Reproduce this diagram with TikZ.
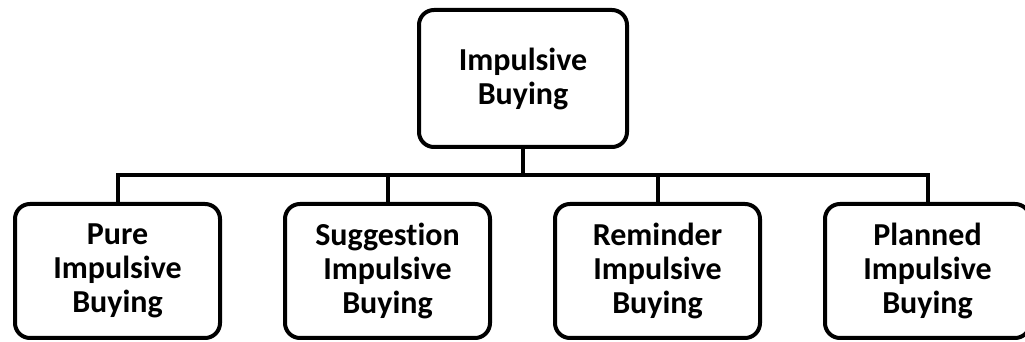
\documentclass[tikz,border=0pt]{standalone}
\usepackage{fontspec}
\setmainfont{Carlito}[Ligatures=NoCommon]
\usepackage{tikz}
\usetikzlibrary{positioning}

\tikzset{
    kind/.style={draw, line width=2pt, rounded corners=7.5pt, align=center,
        font=\bfseries\fontsize{16}{17}\selectfont,
        minimum width=102.5pt, minimum height=67pt, inner sep=0pt},
}

\begin{document}
\begin{tikzpicture}[x=0.5pt, y=-0.5pt, node distance=135pt, line width=2pt]
    \useasboundingbox (0,0) rectangle (1025,342);

    % Nodes
    \node (impulse) [kind, minimum width=104pt, minimum height=68.5pt] at (523,78.5) {Impulsive\\Buying};
    \node (pure) [kind] at (117.5,271) {Pure\\Impulsive\\Buying};
    \node (suggest) [kind, right of=pure] {Suggestion\\Impulsive\\Buying};
    \node (remind) [kind, right of=suggest] {Reminder\\Impulsive\\Buying};
    \node (planned) [kind, right of=remind] {Planned\\Impulsive\\Buying};

    % Connectors
    \coordinate (bar) at (523,175);
    \draw (impulse) -- (bar);
    \draw (bar) -| (pure);
    \draw (bar) -| (suggest);
    \draw (bar) -| (remind);
    \draw (bar) -| (planned);

\end{tikzpicture}
\end{document}
